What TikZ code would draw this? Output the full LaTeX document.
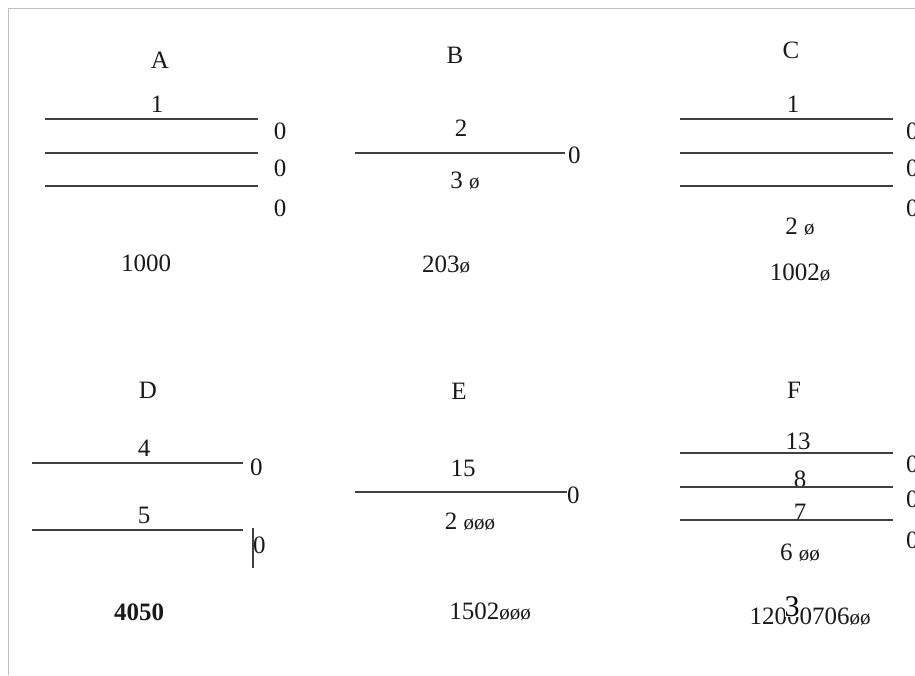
\documentclass[tikz,border=0pt]{standalone}
\usepackage{fontspec}
\setmainfont{Liberation Serif}
\newcommand{\smo}{{\fontsize{21}{24}\selectfont ø}}
\begin{document}
\begin{tikzpicture}[x=1pt,y=-1pt,
  txt/.style={inner sep=0pt, font=\fontsize{25}{28}\selectfont, text=black!90},
  bigtxt/.style={inner sep=0pt, font=\fontsize{25}{28}\selectfont\bfseries, text=black!90},
  rule/.style={line width=1.3pt, draw=black!75},
  frame/.style={line width=1pt, draw=black!25}]
\useasboundingbox (0,0) rectangle (915,675);
\clip (0,0) rectangle (915,675);
% frame
\coordinate (ftr) at (915,8);
\coordinate (ftl) at (8,8);
\coordinate (fbl) at (8,675);
\draw[frame] (ftr) -- (ftl) -- (fbl);

% ---------- A ----------
\node[txt] (Alab) at (160,60) {A};
\node[txt] (A1) at (157,104) {1};
\foreach \i/\y in {1/119,2/153,3/186}{
  \coordinate (Al\i) at (45,\y); \coordinate (Ar\i) at (258,\y);
  \draw[rule] (Al\i) -- (Ar\i);}
\node[txt] (Az1) at (280,131) {0};
\node[txt] (Az2) at (280,168) {0};
\node[txt] (Az3) at (280,208) {0};
\node[txt] (Ares) at (146,263) {1000};

% ---------- B ----------
\node[txt] (Blab) at (455,55) {B};
\node[txt] (B2) at (461,128) {2};
\coordinate (Bl) at (355,153); \coordinate (Br) at (565,153);
\draw[rule] (Bl) -- (Br);
\node[txt,anchor=west] (Bz) at (568,155) {0};
\node[txt] (B3) at (465,181) {3 \smo};
\node[txt] (Bres) at (446,265) {203\smo};

% ---------- C ----------
\node[txt] (Clab) at (791,50) {C};
\node[txt] (C1) at (793,104) {1};
\foreach \i/\y in {1/119,2/153,3/186}{
  \coordinate (Cl\i) at (680,\y); \coordinate (Cr\i) at (893,\y);
  \draw[rule] (Cl\i) -- (Cr\i);}
\node[txt,anchor=west] (Cz1) at (906,131) {0};
\node[txt,anchor=west] (Cz2) at (906,168) {0};
\node[txt,anchor=west] (Cz3) at (906,208) {0};
\node[txt] (C2) at (800,227) {2 \smo};
\node[txt] (Cres) at (800,273) {1002\smo};

% ---------- D ----------
\node[txt] (Dlab) at (148,390) {D};
\node[txt] (D4) at (144,448) {4};
\coordinate (Dl1) at (32,463); \coordinate (Dr1) at (243,463);
\draw[rule] (Dl1) -- (Dr1);
\node[txt,anchor=west] (Dz1) at (250,467) {0};
\node[txt] (D5) at (144,515) {5};
\coordinate (Dl2) at (32,530); \coordinate (Dr2) at (243,530);
\draw[rule] (Dl2) -- (Dr2);
\node[txt,anchor=west] (Dz2) at (253,545) {0};
\coordinate (Dc1) at (253,528); \coordinate (Dc2) at (253,568);
\draw[line width=1.2pt, draw=black!75] (Dc1) -- (Dc2);
\node[bigtxt] (Dres) at (139,612) {4050};

% ---------- E ----------
\node[txt] (Elab) at (459,391) {E};
\node[txt] (E15) at (463,468) {15};
\coordinate (El) at (355,492); \coordinate (Er) at (567,492);
\draw[rule] (El) -- (Er);
\node[txt,anchor=west] (Ez) at (567,495) {0};
\node[txt] (E2) at (470,522) {2 \smo\smo\smo};
\node[txt] (Eres) at (490,612) {1502\smo\smo\smo};

% ---------- F ----------
\node[txt] (Flab) at (794,390) {F};
\node[txt] (F13) at (798,441) {13};
\node[txt] (F8) at (800,479) {8};
\node[txt] (F7) at (800,512) {7};
\foreach \i/\y in {1/453,2/487,3/520}{
  \coordinate (Fl\i) at (680,\y); \coordinate (Fr\i) at (893,\y);
  \draw[rule] (Fl\i) -- (Fr\i);}
\node[txt,anchor=west] (Fz1) at (906,464) {0};
\node[txt,anchor=west] (Fz2) at (906,499) {0};
\node[txt,anchor=west] (Fz3) at (906,540) {0};
\node[txt] (F6) at (800,553) {6 \smo\smo};
\node[txt] (Fres) at (810,617) {12000706\smo\smo};
\node[inner sep=0pt, fill=white, font=\fontsize{30}{32}\selectfont, text=black] (Ffix) at (792,607) {3};
\end{tikzpicture}
\end{document}
